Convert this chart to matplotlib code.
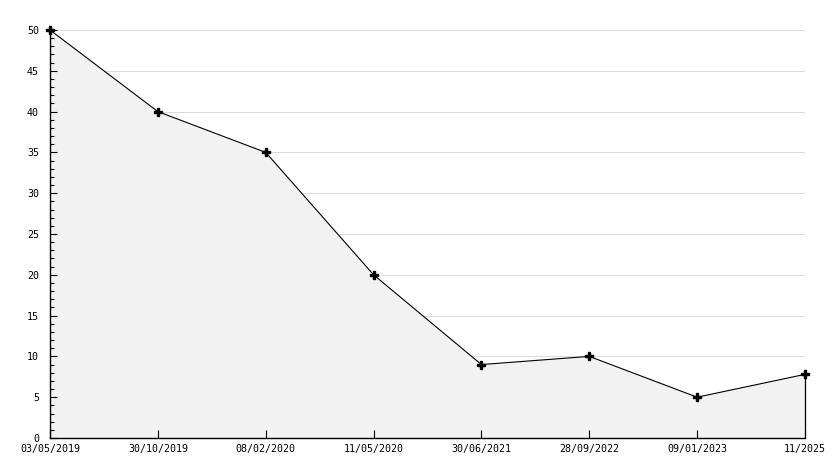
import matplotlib
matplotlib.use("Agg")
import matplotlib.pyplot as plt
from matplotlib.ticker import MultipleLocator

dates = ["03/05/2019", "30/10/2019", "08/02/2020", "11/05/2020",
         "30/06/2021", "28/09/2022", "09/01/2023", "11/2025"]
values = [50, 40, 35, 20, 9, 10, 5, 7.8]
grid_levels = [5, 10, 15, 20, 25, 30, 35, 40, 45, 50]

W, H = 834, 468
fig = plt.figure(figsize=(W / 100, H / 100), dpi=100)
ax = fig.add_axes([50 / W, (H - 438) / H, (805 - 50) / W, (438 - 30) / H])

x = list(range(len(dates)))
for g in grid_levels:
    ax.axhline(g, color="#dddddd", lw=0.8, zorder=0)
ax.fill_between(x, values, 0, color="#f2f2f2", lw=0, zorder=1)
ax.plot(x, values, color="black", lw=0.8, zorder=3, clip_on=False)
ax.plot(x, values, ls="none", marker="P", ms=5.5, color="black", zorder=6,
        clip_on=False)
ax.vlines(x[-1], 0, values[-1], color="black", lw=0.9, zorder=3, clip_on=False)

ax.set_xlim(0, len(dates) - 1)
ax.set_ylim(0, 50)
ax.set_xticks(x)
ax.set_xticklabels(dates)
ax.yaxis.set_major_locator(MultipleLocator(5))
ax.yaxis.set_minor_locator(MultipleLocator(1))

for s in ["top", "right"]:
    ax.spines[s].set_visible(False)
for s in ["left", "bottom"]:
    ax.spines[s].set_linewidth(1.0)
    ax.spines[s].set_zorder(5)

ax.tick_params(axis="y", which="major", direction="in", length=5, width=0.8,
               pad=8, labelsize=7.2)
ax.tick_params(axis="y", which="minor", direction="in", length=3, width=0.8)
ax.tick_params(axis="x", which="major", direction="in", length=6, width=0.8,
               pad=4, labelsize=7.2)
for lab in ax.get_xticklabels() + ax.get_yticklabels():
    lab.set_fontfamily("DejaVu Sans Mono")

fig.savefig("out.png", dpi=100)
